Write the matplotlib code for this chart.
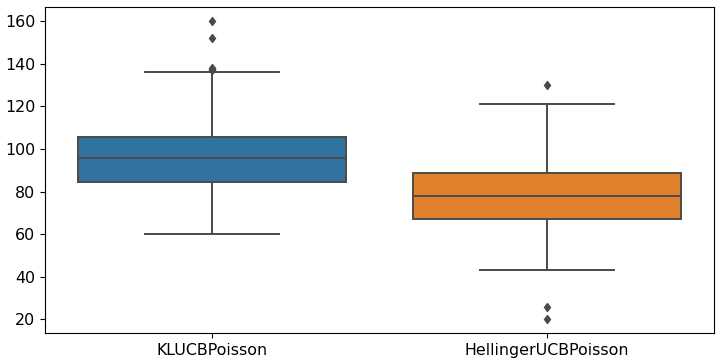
import matplotlib
matplotlib.use("Agg")
import matplotlib.pyplot as plt

# summary of each policy's regret distribution
policies = ["KLUCBPoisson", "HellingerUCBPoisson"]
medians = [95.8, 78.1]
q1 = [84.7, 67.3]
q3 = [105.5, 88.8]
whisker_low = [60, 43]
whisker_high = [136, 121]
fliers = [[137, 137.5, 138, 152, 160], [130, 26, 20]]
colors = ["#3274a1", "#e1812c"]

line_col = "#4a4a4a"

stats = []
for i, name in enumerate(policies):
    stats.append({"label": name, "med": medians[i], "q1": q1[i], "q3": q3[i],
                  "whislo": whisker_low[i], "whishi": whisker_high[i],
                  "fliers": fliers[i]})

fig = plt.figure(figsize=(7.21, 3.62), dpi=100)
ax = fig.add_axes([0.0624, 0.080, 0.928, 0.900])

bp = ax.bxp(stats, positions=range(len(policies)), widths=0.8,
            patch_artist=True,
            boxprops=dict(edgecolor=line_col, linewidth=1.4),
            medianprops=dict(color=line_col, linewidth=1.4),
            whiskerprops=dict(color=line_col, linewidth=1.4),
            capprops=dict(color=line_col, linewidth=1.4),
            flierprops=dict(marker="d", markerfacecolor=line_col,
                            markeredgecolor=line_col, markersize=4.5))
for patch, c in zip(bp["boxes"], colors):
    patch.set_facecolor(c)
for cap in bp["caps"]:
    x = cap.get_xdata()
    mid = (x[0] + x[1]) / 2
    cap.set_xdata([mid - 0.2, mid + 0.2])

ax.set_xlim(-0.5, 1.5)
ax.set_ylim(13.6, 166.6)
ax.set_yticks([20, 40, 60, 80, 100, 120, 140, 160])
ax.tick_params(labelsize=11.4)

plt.savefig("out.png", dpi=100)
